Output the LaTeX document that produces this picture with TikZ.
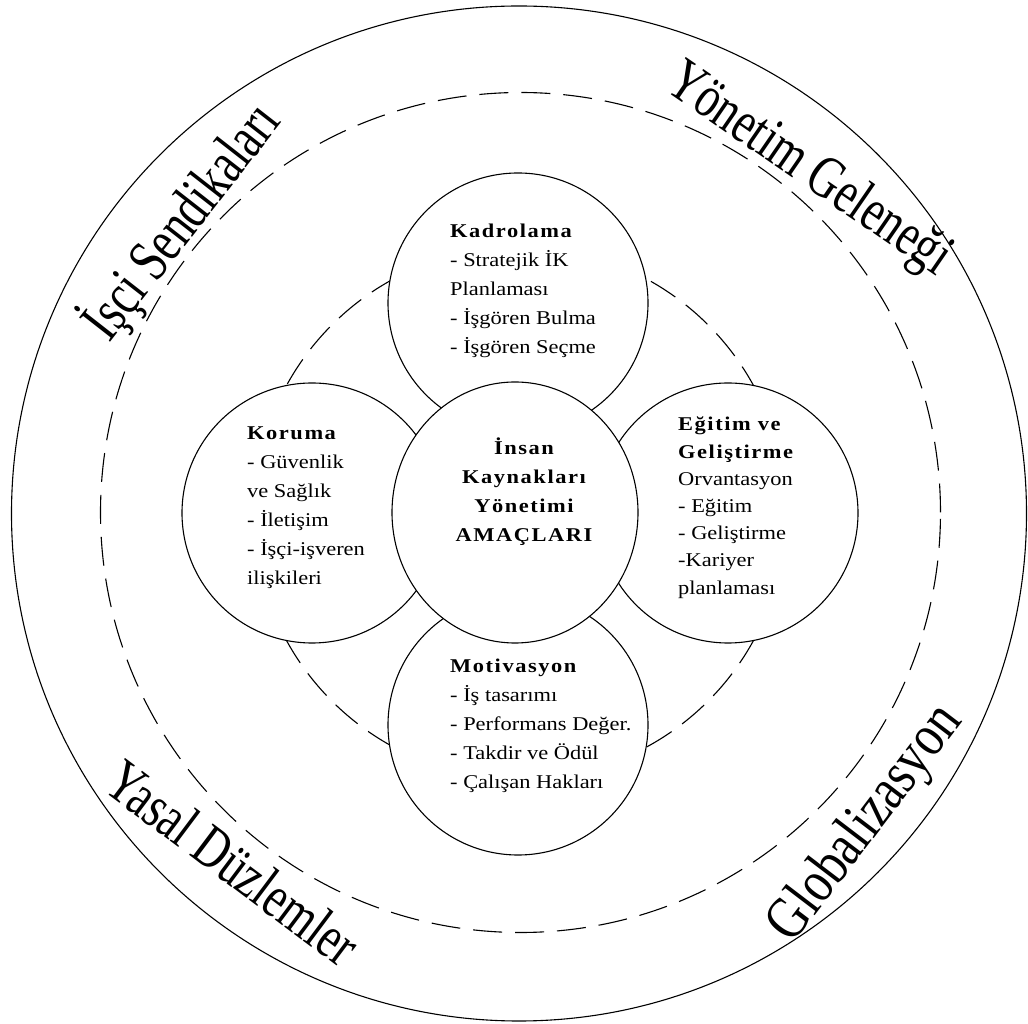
\documentclass[tikz,border=0pt]{standalone}
\usepackage{fontspec}
\usetikzlibrary{shapes.geometric}
\newfontfamily\pf[FakeStretch=1.15]{Liberation Serif}
\newfontfamily\af[FakeStretch=0.75]{Liberation Serif}
\newcommand\hd[1]{{\bfseries\addfontfeatures{LetterSpace=8}#1}}

\begin{document}
\begin{tikzpicture}[x=1pt,y=1pt,
  ring/.style={line width=1.1pt},
  dashring/.style={line width=1.1pt, dash pattern=on 29pt off 13pt},
  petal/.style={circle, draw, line width=1.1pt, fill=white, minimum size=260pt, inner sep=0pt},
  core/.style={ellipse, draw, line width=1.1pt, fill=white, minimum width=246pt, minimum height=261pt, inner sep=0pt},
  petaltext/.style={anchor=north west, align=left, inner sep=0pt, font=\pf\fontsize{19.5}{29}\selectfont},
  bandlabel/.style={anchor=base, inner sep=0pt, font=\af\fontsize{60}{60}\selectfont}
]
\useasboundingbox (0,0) rectangle (1028,1023);
\fill[white] (0,0) rectangle (1028,1023);

% rings
\draw[ring] (519,509.5) circle[radius=507.5];
\draw[dashring] (520.5,510.5) circle[radius=420];
\draw[dashring] (520,510) circle[radius=266];

% four function circles and the core
\node[petal] (kadro) at (518,720) {};
\node[petal] (koruma) at (312,510) {};
\node[petal] (egitim) at (728,510) {};
\node[petal] (motiv) at (518,298) {};
\node[core] (ikyc) at (515,510.5) {};

% texts of the circles
\node[petaltext] (tkadro) at (450,799)
  {\hd{Kadrolama}\\- Stratejik İK\\Planlaması\\- İşgören Bulma\\- İşgören Seçme};
\node[petaltext] (tkoruma) at (247,596)
  {\hd{Koruma}\\- Güvenlik\\ve Sağlık\\- İletişim\\- İşçi-işveren\\ilişkileri};
\node[petaltext, font=\pf\fontsize{19.5}{27.2}\selectfont] (tegitim) at (678,606)
  {\hd{Eğitim ve}\\\hd{Geliştirme}\\Orvantasyon\\- Eğitim\\- Geliştirme\\-Kariyer\\planlaması};
\node[petaltext] (tmotiv) at (450,364)
  {\hd{Motivasyon}\\- İş tasarımı\\- Performans Değer.\\- Takdir ve Ödül\\- Çalışan Hakları};
\node[petaltext, anchor=north, align=center] (tikyc) at (524,585)
  {\hd{İnsan}\\\hd{Kaynakları}\\\hd{Yönetimi}\\\hd{AMAÇLARI}};

% labels of the outer band
\node[bandlabel, rotate=52] (sendika) at (196,790.5) {İşçi Sendikaları};
\node[bandlabel, rotate=-34.5] (gelenek) at (800,840) {Yönetim Geleneği};
\node[bandlabel, rotate=-36.9] (yasal) at (221,144) {Yasal Düzlemler};
\node[bandlabel, rotate=52.7, xscale=1.08] (global) at (878,190) {Globalizasyon};
\end{tikzpicture}
\end{document}
